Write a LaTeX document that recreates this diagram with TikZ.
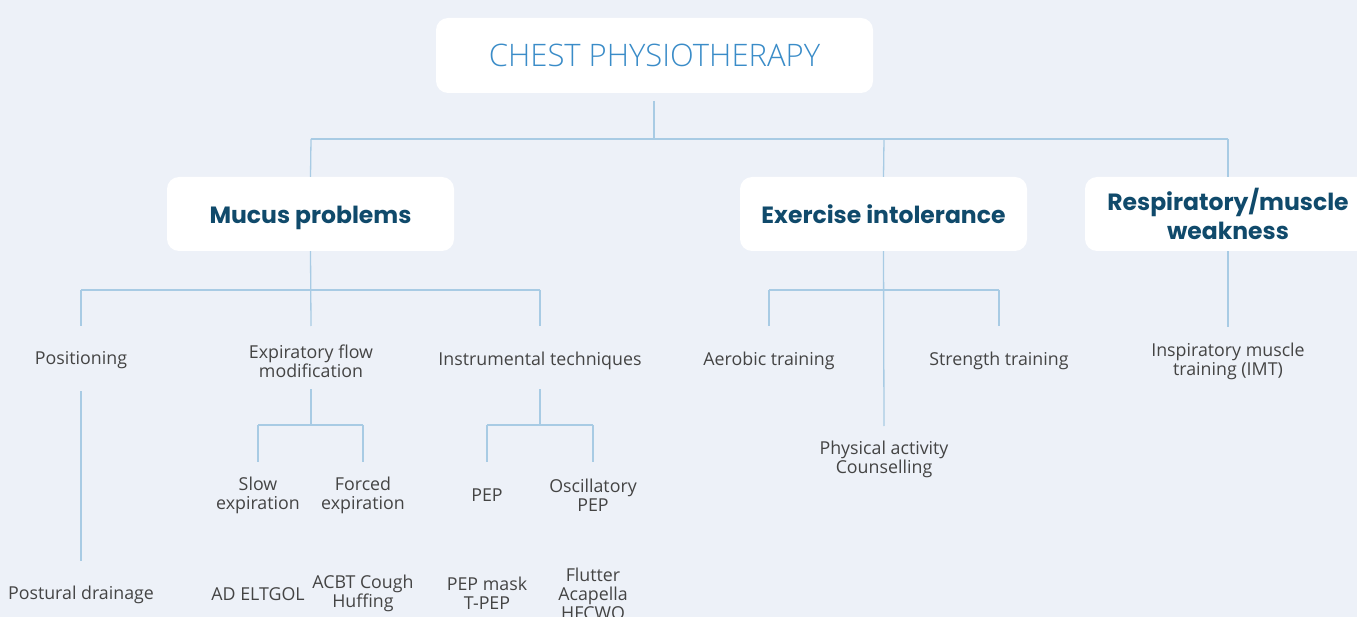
\documentclass[tikz,border=0pt]{standalone}
\usepackage{fontspec}
\setmainfont{Open Sans}
\newfontfamily\headfont{Poppins}
\newfontfamily\titlefont{Open Sans Light}
\definecolor{bgc}{RGB}{237,241,248}
\definecolor{linec}{RGB}{168,203,228}
\definecolor{headc}{RGB}{16,74,107}
\definecolor{titlec}{RGB}{58,140,200}
\definecolor{bodyc}{RGB}{68,68,68}
\tikzset{
  box/.style={fill=white, rounded corners=12pt, inner sep=0pt, align=center},
  head/.style={box, text=headc, font=\headfont\bfseries\fontsize{23.5}{29}\selectfont},
  onehead/.style={head, text height=22pt, text depth=2pt},
  item/.style={inner sep=0pt, align=center, text=bodyc, font=\fontsize{17.8}{18.8}\selectfont},
  link/.style={draw=linec, line width=1.3pt}
}
\begin{document}
\begin{tikzpicture}[x=1pt,y=-1pt]
\fill[bgc] (0,0) rectangle (1357,617);
\useasboundingbox (0,0) rectangle (1357,617);
\clip (0,0) rectangle (1357,617);

% top level
\node[box, minimum width=437pt, minimum height=75pt, text=titlec,
      font=\titlefont\fontsize{31}{35}\selectfont] (title) at (654.5,55.5) {CHEST PHYSIOTHERAPY};

% main groups
\node[onehead, minimum width=287pt, minimum height=74pt] (mucus) at (310.5,214) {Mucus problems};
\node[onehead, minimum width=287pt, minimum height=74pt] (exer) at (883.5,214) {Exercise intolerance};
\node[head, minimum width=286pt, minimum height=74pt] (resp) at (1228,214) {Respiratory/muscle\\weakness};

% second level
\node[item] (pos) at (81,360.5) {Positioning};
\node[item] (expf) at (311,361) {Expiratory flow\\modification};
\node[item] (instr) at (540,360.5) {Instrumental techniques};
\node[item] (aero) at (769,360.5) {Aerobic training};
\node[item] (stren) at (999,360.5) {Strength training};
\node[item] (phys) at (884,459) {Physical activity\\Counselling};
\node[item] (imt) at (1228,361) {Inspiratory muscle\\training (IMT)};

% third level
\node[item] (slow) at (258,495) {Slow\\expiration};
\node[item] (forced) at (363,495) {Forced\\expiration};
\node[item] (pep) at (487,495.5) {PEP};
\node[item] (opep) at (593,495) {Oscillatory\\PEP};

% fourth level
\node[item] (post) at (81,594.5) {Postural drainage};
\node[item] (ad) at (258,594.5) {AD ELTGOL};
\node[item] (acbt) at (363,593.5) {ACBT Cough\\Huffing};
\node[item] (pepm) at (487,593.5) {PEP mask\\T-PEP};
\node[item] (flut) at (593,594) {Flutter\\Acapella\\HFCWO};

% junction points
\coordinate (t0) at (654,101);
\coordinate (tj) at (654,139);
\coordinate (ja) at (311,139);
\coordinate (jb) at (884,139);
\coordinate (jc) at (1228,139);

\coordinate (mposj) at (81,290);
\coordinate (minsj) at (540,290);
\coordinate (mpos) at (81,326);
\coordinate (mexp) at (311,326);
\coordinate (mins) at (540,326);

\coordinate (eaj) at (769,290);
\coordinate (esj) at (999,290);
\coordinate (ea) at (769,326);
\coordinate (es) at (999,326);
\coordinate (ep) at (884,426);

\coordinate (ri) at (1228,327);

\coordinate (p0) at (81,391);
\coordinate (p1) at (81,561);

\coordinate (x0) at (311,389);
\coordinate (xj) at (311,425);
\coordinate (xsj) at (258,425);
\coordinate (xfj) at (363,425);
\coordinate (xs) at (258,462);
\coordinate (xf) at (363,462);

\coordinate (i0) at (540,389);
\coordinate (ij) at (540,425);
\coordinate (ipj) at (487,425);
\coordinate (ioj) at (593,425);
\coordinate (ip) at (487,462);
\coordinate (io) at (593,462);

% connectors
\draw[link] (t0) -- (tj);
\draw[link] (ja) -- (jc);
\draw[link] (ja) -- (mucus.north);
\draw[link] (jb) -- (exer.north);
\draw[link] (jc) -- (resp.north);

\draw[link] (mucus.south) -- (mexp);
\draw[link] (mposj) -- (minsj);
\draw[link] (mposj) -- (mpos);
\draw[link] (minsj) -- (mins);

\draw[link] (exer.south) -- (ep);
\draw[link] (eaj) -- (esj);
\draw[link] (eaj) -- (ea);
\draw[link] (esj) -- (es);

\draw[link] (resp.south) -- (ri);

\draw[link] (p0) -- (p1);

\draw[link] (x0) -- (xj);
\draw[link] (xsj) -- (xfj);
\draw[link] (xsj) -- (xs);
\draw[link] (xfj) -- (xf);

\draw[link] (i0) -- (ij);
\draw[link] (ipj) -- (ioj);
\draw[link] (ipj) -- (ip);
\draw[link] (ioj) -- (io);
\end{tikzpicture}
\end{document}
